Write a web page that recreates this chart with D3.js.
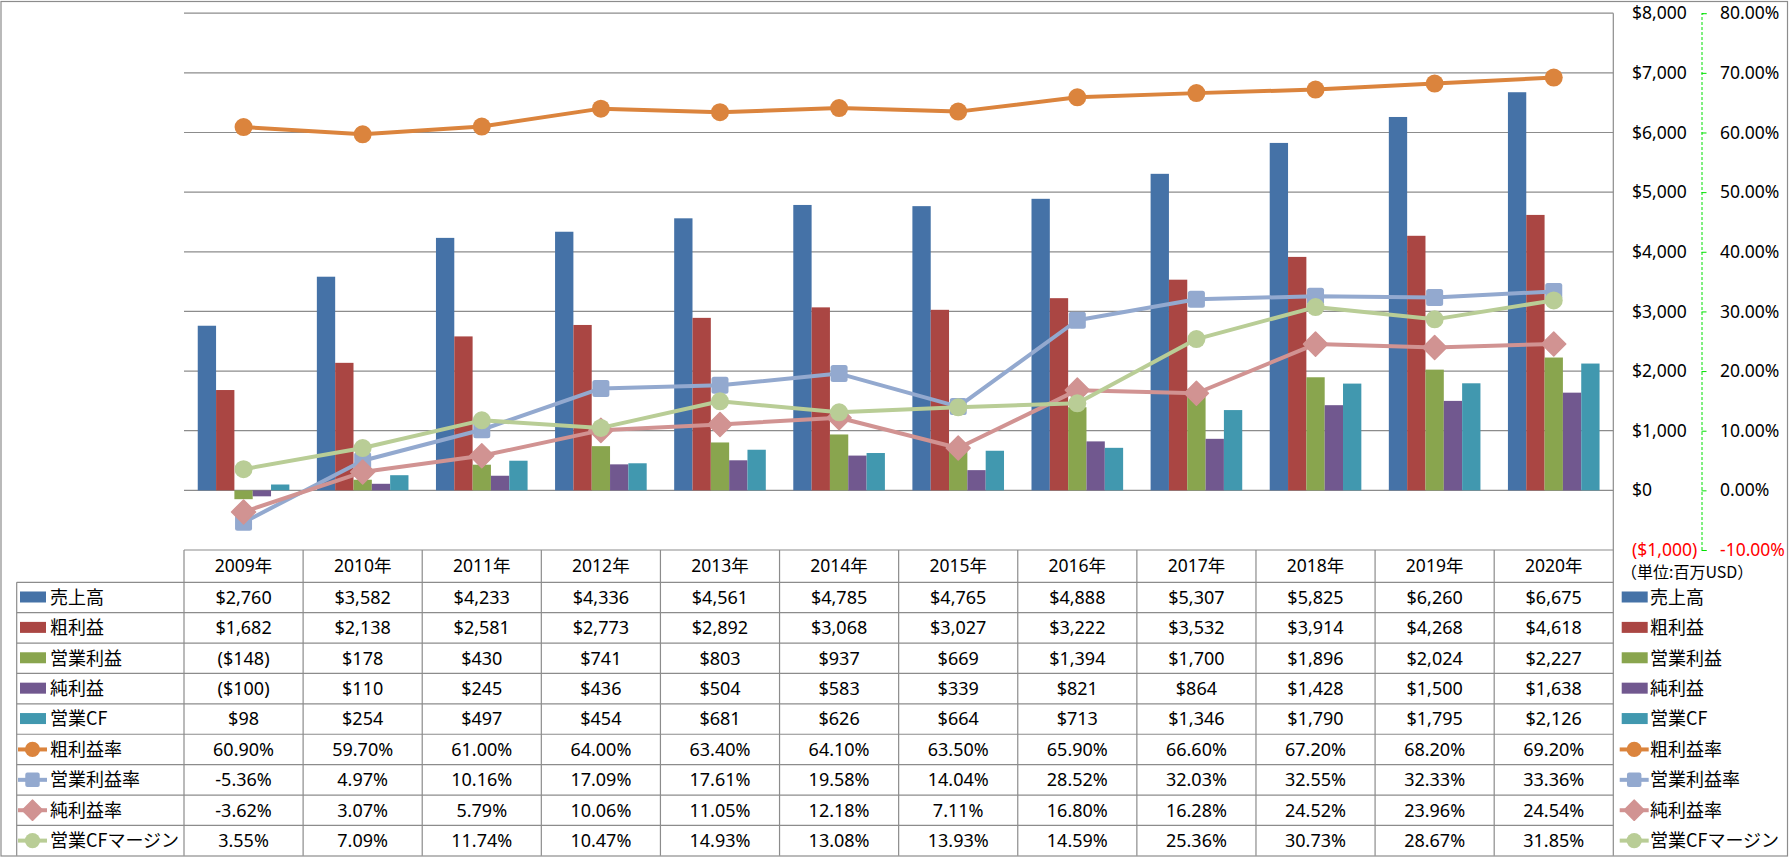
<!DOCTYPE html>
<html><head><meta charset="utf-8">
<script src="https://cdn.jsdelivr.net/npm/d3@7"></script>
<style>
html,body{margin:0;padding:0;background:#fff;}
svg{display:block;}
text{font-family:"Noto Sans","Noto Sans CJK JP",sans-serif;}
.jp{font-family:"Noto Sans CJK JP","Noto Sans",sans-serif;}
</style></head>
<body>
<script>
const years = ["2009年","2010年","2011年","2012年","2013年","2014年","2015年","2016年","2017年","2018年","2019年","2020年"];
const sales = [2760,3582,4233,4336,4561,4785,4765,4888,5307,5825,6260,6675];
const gross = [1682,2138,2581,2773,2892,3068,3027,3222,3532,3914,4268,4618];
const opIncome = [-148,178,430,741,803,937,669,1394,1700,1896,2024,2227];
const netIncome = [-100,110,245,436,504,583,339,821,864,1428,1500,1638];
const opCF = [98,254,497,454,681,626,664,713,1346,1790,1795,2126];
const grossMargin = [60.90,59.70,61.00,64.00,63.40,64.10,63.50,65.90,66.60,67.20,68.20,69.20];
const opMargin = [-5.36,4.97,10.16,17.09,17.61,19.58,14.04,28.52,32.03,32.55,32.33,33.36];
const netMargin = [-3.62,3.07,5.79,10.06,11.05,12.18,7.11,16.80,16.28,24.52,23.96,24.54];
const cfMargin = [3.55,7.09,11.74,10.47,14.93,13.08,13.93,14.59,25.36,30.73,28.67,31.85];
const dollarTicks = [-1000,0,1000,2000,3000,4000,5000,6000,7000,8000];
const pctTicks = [-10,0,10,20,30,40,50,60,70,80];

const barSeries = [
  {name:"売上高", values:sales, color:"#4572A7"},
  {name:"粗利益", values:gross, color:"#AA4643"},
  {name:"営業利益", values:opIncome, color:"#89A54E"},
  {name:"純利益", values:netIncome, color:"#71588F"},
  {name:"営業CF", values:opCF, color:"#4198AF"}
];
const lineSeries = [
  {name:"粗利益率", values:grossMargin, color:"#DB843D", marker:"circle"},
  {name:"営業利益率", values:opMargin, color:"#93A9CF", marker:"square"},
  {name:"純利益率", values:netMargin, color:"#D19392", marker:"diamond"},
  {name:"営業CFマージン", values:cfMargin, color:"#B9CD96", marker:"circle"}
];

const W = 1789, H = 858;
const svg = d3.select("body").append("svg").attr("width", W).attr("height", H);
const grid = "#8c8c8c";

const plotL = 184, plotR = 1613.3, plotT = 13.2, plotB = 550;
const x = d3.scaleBand().domain(years).range([plotL, plotR]).padding(0);
const y = d3.scaleLinear().domain([-1000, 8000]).range([plotB, plotT]);
const y2 = d3.scaleLinear().domain([-10, 80]).range([plotB, plotT]);
const bw = x.bandwidth();
const barW = bw / 6.5;

// outer border
svg.append("rect").attr("x",1).attr("y",1.5).attr("width",1786.5).attr("height",854.5)
  .attr("fill","none").attr("stroke",grid).attr("stroke-width",1.2);

// gridlines
svg.append("g").selectAll("line").data(dollarTicks.filter(d=>d>=0)).join("line")
  .attr("x1",plotL).attr("x2",plotR).attr("y1",d=>y(d)).attr("y2",d=>y(d))
  .attr("stroke",grid).attr("stroke-width",1.2);

// primary axis (labels on right side, left-aligned)
const fmtD = d => d < 0 ? "($" + d3.format(",")(-d) + ")" : "$" + d3.format(",")(d);
const fmtP = d => (d < 0 ? "-" : "") + d3.format(".2f")(Math.abs(d)) + "%";
const axisL = d3.axisRight(y).tickValues(dollarTicks).tickSize(0).tickFormat(fmtD);
const gA = svg.append("g").attr("transform", `translate(${1632},0)`).call(axisL);
gA.select(".domain").remove();
gA.selectAll("text").attr("x",0).attr("dx",0).attr("text-anchor","start")
  .style("font-family","'Noto Sans',sans-serif").style("font-size","17.5px")
  .attr("fill", d => d < 0 ? "#ff0000" : "#000");

// secondary axis
const axisR = d3.axisRight(y2).tickValues(pctTicks).tickSize(5).tickFormat(fmtP);
const gB = svg.append("g").attr("transform", `translate(${1701.5},0)`).call(axisR);
gB.select(".domain").attr("stroke","#00e000").attr("stroke-dasharray","3,2").attr("stroke-width",1);
gB.selectAll(".tick line").attr("stroke","#00e000").attr("stroke-width",1);
gB.selectAll("text").attr("x",18.5).attr("text-anchor","start")
  .style("font-family","'Noto Sans',sans-serif").style("font-size","17.5px")
  .attr("fill", d => d < 0 ? "#ff0000" : "#000");

// bars
barSeries.forEach((s, i) => {
  svg.append("g").selectAll("rect").data(s.values).join("rect")
    .attr("x", (d, j) => x(years[j]) + (bw - 5*barW)/2 + i*barW)
    .attr("width", barW)
    .attr("y", d => y(Math.max(0, d)))
    .attr("height", d => Math.abs(y(d) - y(0)))
    .attr("fill", s.color);
});

// markers
function drawMarker(g, type, cx, cy, color, scale) {
  const k = scale || 1;
  if (type === "circle") {
    g.append("circle").attr("cx",cx).attr("cy",cy).attr("r",9*k).attr("fill",color);
  } else if (type === "square") {
    const s = 17*k;
    g.append("rect").attr("x",cx-s/2).attr("y",cy-s/2).attr("width",s).attr("height",s)
      .attr("rx",2.5*k).attr("fill",color);
  } else {
    const r = 12*k;
    g.append("path").attr("d",`M${cx},${cy-r}L${cx+r},${cy}L${cx},${cy+r}L${cx-r},${cy}Z`)
      .attr("fill",color).attr("stroke",color).attr("stroke-width",1.5*k).attr("stroke-linejoin","round");
  }
}

lineSeries.forEach(s => {
  const g = svg.append("g");
  const line = d3.line().x((d, j) => x(years[j]) + bw/2).y(d => y2(d));
  g.append("path").datum(s.values).attr("d", line)
    .attr("fill","none").attr("stroke",s.color).attr("stroke-width",4).attr("stroke-linejoin","round");
  s.values.forEach((v, j) => drawMarker(g, s.marker, x(years[j]) + bw/2, y2(v), s.color, 1));
});

// table
const tT = 550, hdrB = 582.3, rowH = 30.39;
const nRows = barSeries.length + lineSeries.length;
const tB = hdrB + nRows*rowH;
const legL = 16.7;
const tbl = svg.append("g");
tbl.append("line").attr("x1",plotL).attr("x2",plotR).attr("y1",tT).attr("y2",tT).attr("stroke",grid).attr("stroke-width",1.2);
d3.range(nRows).forEach(r => {
  const yy = hdrB + r*rowH;
  tbl.append("line").attr("x1",legL).attr("x2",plotR).attr("y1",yy).attr("y2",yy).attr("stroke",grid).attr("stroke-width",1.2);
});
years.forEach(yr => {
  tbl.append("line").attr("x1",x(yr)).attr("x2",x(yr)).attr("y1",tT).attr("y2",tB).attr("stroke",grid).attr("stroke-width",1.2);
});
tbl.append("line").attr("x1",plotR).attr("x2",plotR).attr("y1",plotT).attr("y2",tB).attr("stroke",grid).attr("stroke-width",1.2);
tbl.append("line").attr("x1",legL).attr("x2",legL).attr("y1",hdrB).attr("y2",tB).attr("stroke",grid).attr("stroke-width",1.2);

tbl.append("g").selectAll("text").data(years).join("text")
  .attr("x", d => x(d) + bw/2).attr("y", (tT + hdrB)/2).attr("dy","0.35em")
  .attr("text-anchor","middle").style("font-size","17.5px").text(d => d);

const allRows = barSeries.map(s => ({...s, kind:"bar", fmt:fmtD}))
  .concat(lineSeries.map(s => ({...s, kind:"line", fmt:fmtP})));

allRows.forEach((s, r) => {
  const cy = hdrB + r*rowH + rowH/2;
  tbl.append("g").selectAll("text").data(s.values).join("text")
    .attr("x", (d, j) => x(years[j]) + bw/2).attr("y", cy).attr("dy","0.35em")
    .attr("text-anchor","middle").style("font-size","18px").text(d => s.fmt(d));
  [[20, 50], [1621.7, 1650]].forEach(([sx, tx]) => {
    if (s.kind === "bar") {
      tbl.append("rect").attr("x",sx).attr("y",cy-6).attr("width",26).attr("height",11).attr("fill",s.color);
    } else {
      tbl.append("line").attr("x1",sx-2).attr("x2",sx+27).attr("y1",cy).attr("y2",cy)
        .attr("stroke",s.color).attr("stroke-width",4);
      drawMarker(tbl, s.marker, sx+12.5, cy, s.color, 0.85);
    }
    tbl.append("text").attr("class","jp").attr("x",tx).attr("y",cy).attr("dy","0.35em")
      .style("font-size","18px").text(s.name);
  });
});

svg.append("text").attr("class","jp").attr("x",1621).attr("y",572).attr("dy","0.35em")
  .style("font-size","16px").text("（単位:百万USD）");
</script>
</body></html>
